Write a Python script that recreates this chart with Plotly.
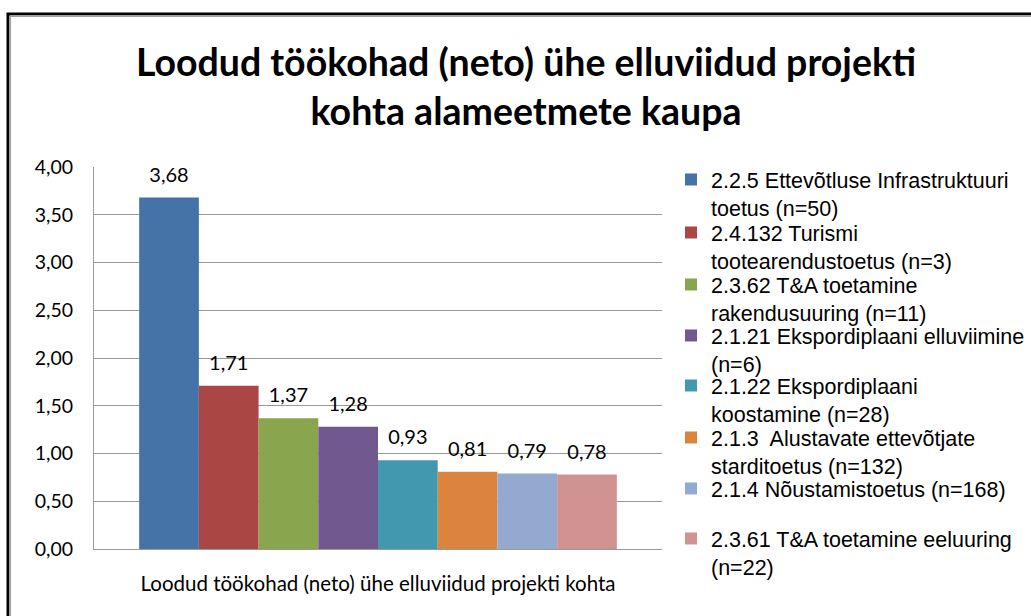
import plotly.graph_objects as go

# ---------------- data ----------------
category = "Loodud töökohad (neto) ühe elluviidud projekti kohta"
series_names = [
    "2.2.5 Ettevõtluse Infrastruktuuri<br>toetus (n=50)",
    "2.4.132 Turismi<br>tootearendustoetus (n=3)",
    "2.3.62 T&A toetamine<br>rakendusuuring (n=11)",
    "2.1.21 Ekspordiplaani elluviimine<br>(n=6)",
    "2.1.22 Ekspordiplaani<br>koostamine (n=28)",
    "2.1.3\u00a0 Alustavate ettevõtjate<br>starditoetus (n=132)",
    "2.1.4 Nõustamistoetus (n=168)",
    "2.3.61 T&A toetamine eeluuring<br>(n=22)",
]
values = [3.68, 1.71, 1.37, 1.28, 0.93, 0.81, 0.79, 0.78]
y_ticks = [0, 0.5, 1.0, 1.5, 2.0, 2.5, 3.0, 3.5, 4.0]
title_text = "Loodud töökohad (neto) ühe elluviidud projekti<br>kohta alameetmete kaupa"

# ---------------- style ----------------
colors = ["#4572A7", "#AA4643", "#89A54E", "#71588F",
          "#4198AF", "#DB843D", "#93A9CF", "#D19392"]
W, H = 1031, 616
ML, MR, MT, MB = 94, 369, 167, 67
PW, PH = W - ML - MR, H - MT - MB


def px_x(px):
    return (px - ML) / PW


def px_y(py):
    return (H - MB - py) / PH


grid = "#9a9a9a"
label_font = dict(family="Lato, Calibri, sans-serif", size=20, color="#000000")
legend_font = dict(family="Liberation Sans, Arial, sans-serif", size=21.5, color="#000000")

# pixel centres of the first line of each legend entry (layout only)
legend_rows = [181, 234, 286, 337, 387, 439, 490, 540]
legend_left_px = 671
legend_top_offset = 22

fig = go.Figure()
for i, (name, v, c) in enumerate(zip(series_names, values, colors)):
    lg = "legend" if i == 0 else f"legend{i + 1}"
    fig.add_trace(go.Bar(
        x=[category], y=[v], name=name, legend=lg,
        marker=dict(color=c, line=dict(width=0)),
        hovertemplate="%{y:.2f}<extra></extra>",
    ))

for i, (v, c) in enumerate(zip(values, colors)):
    fig.add_trace(go.Scatter(
        x=[category], y=[v], mode="markers+text",
        marker=dict(size=16, opacity=0, color=c),
        text=[f"{v:.2f}".replace(".", ",")],
        textposition="top center",
        textfont=label_font,
        showlegend=False, hoverinfo="skip", cliponaxis=False,
    ))

layout_legends = {}
for i, row in enumerate(legend_rows):
    key = "legend" if i == 0 else f"legend{i + 1}"
    layout_legends[key] = dict(
        x=px_x(legend_left_px), y=px_y(row - legend_top_offset),
        xref="paper", yref="paper", xanchor="left", yanchor="top",
        font=legend_font, bgcolor="rgba(0,0,0,0)", borderwidth=0,
        valign="top",
    )

shapes = [
    # outer chart-area border (extends beyond the right/bottom edges)
    dict(type="rect", xref="paper", yref="paper",
         x0=px_x(8), x1=px_x(1060), y0=px_y(660), y1=px_y(14),
         line=dict(color="#000000", width=3), fillcolor="rgba(0,0,0,0)", layer="above"),
    dict(type="line", xref="paper", yref="paper",
         x0=px_x(10), x1=px_x(1060), y0=px_y(16), y1=px_y(16),
         line=dict(color="#a0a0a0", width=2), layer="above"),
    dict(type="line", xref="paper", yref="paper",
         x0=px_x(10), x1=px_x(10), y0=px_y(16), y1=px_y(660),
         line=dict(color="#a0a0a0", width=2), layer="above"),
]

fig.update_layout(
    width=W, height=H,
    margin=dict(l=ML, r=MR, t=MT, b=MB, autoexpand=False),
    paper_bgcolor="#ffffff", plot_bgcolor="#ffffff",
    barmode="group", bargap=0.159, bargroupgap=0,
    scattermode="group", scattergap=0.159,
    separators=", ",
    title=dict(
        text=title_text, x=526 / W, xref="container", xanchor="center",
        y=1 - 76 / H, yref="container", yanchor="top",
        font=dict(family="Lato, Calibri, sans-serif", size=37.5, weight="bold", color="#000000"),
    ),
    xaxis=dict(
        type="category", showgrid=False, showline=True, linecolor=grid, linewidth=1,
        ticks="", tickfont=dict(family="Lato, Calibri, sans-serif", size=20.5, color="#000000"),
        ticklabelstandoff=16, fixedrange=True,
    ),
    yaxis=dict(
        range=[0, 4], tickvals=y_ticks, tickformat=".2f",
        showgrid=True, gridcolor=grid, gridwidth=1,
        showline=True, linecolor=grid, linewidth=1, zeroline=False,
        ticks="", tickfont=dict(family="Lato, Calibri, sans-serif", size=19.5, color="#000000"),
        ticklabelstandoff=16, fixedrange=True,
    ),
    shapes=shapes,
    **layout_legends,
)

fig.write_html(
    "out.html",
    config={"displayModeBar": False},
    post_script="document.body.style.margin='0';document.body.style.padding='0';",
)
